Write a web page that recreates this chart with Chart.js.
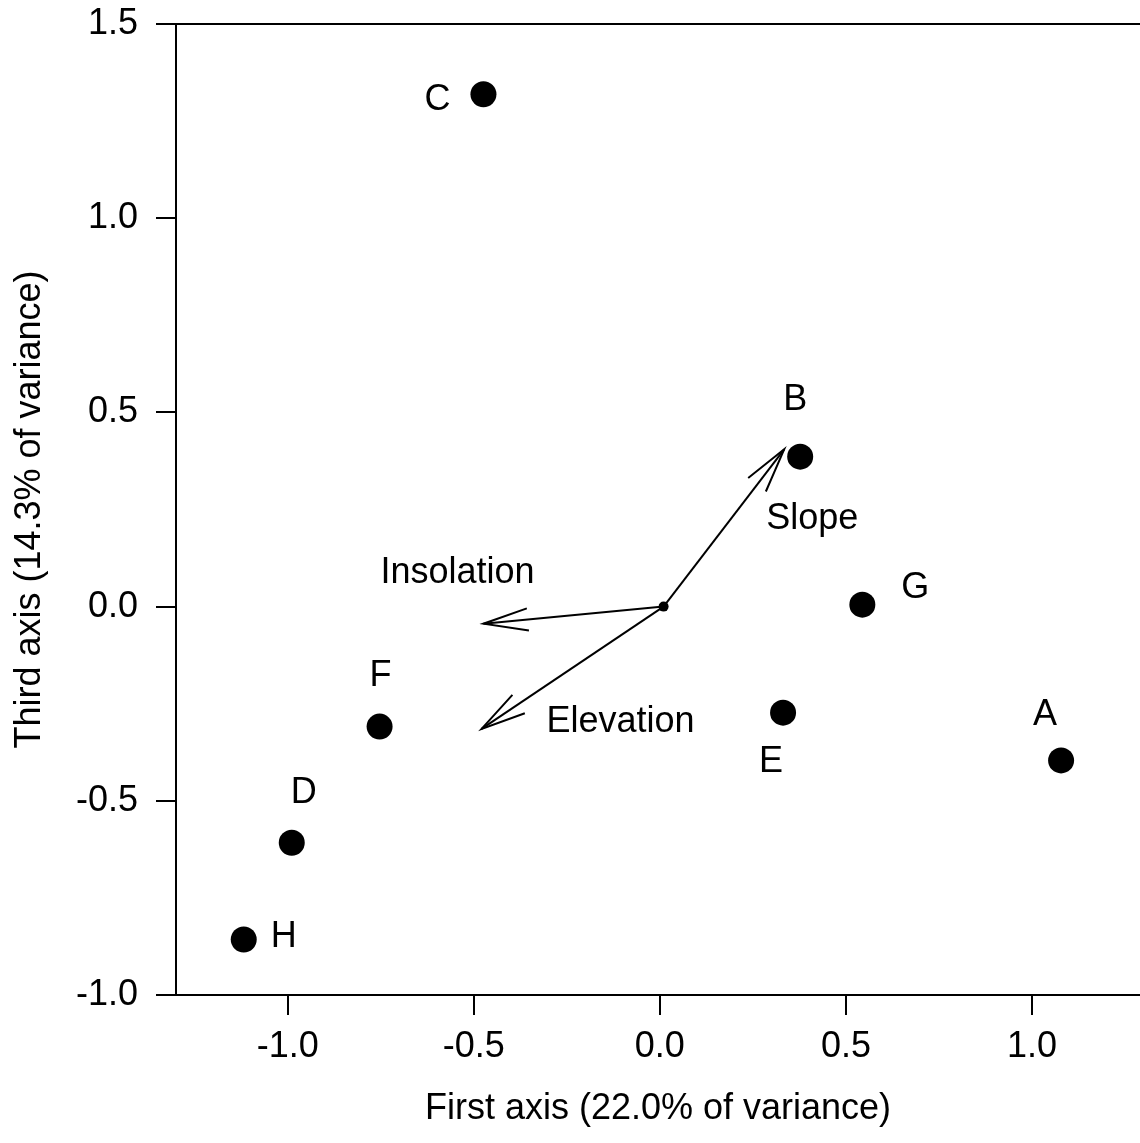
<!DOCTYPE html>
<html>
<head>
<meta charset="utf-8">
<title>Ordination plot</title>
<script src="https://cdn.jsdelivr.net/npm/chart.js@4/dist/chart.umd.min.js"></script>
<style>
  html, body { margin: 0; background: #fff; overflow: hidden; }
  #ordChart { display: block; }
</style>
</head>
<body>
<canvas id="ordChart" width="1140" height="1143"></canvas>
<script>
// site scores on the first and third axes
const siteNames = ['A', 'B', 'C', 'D', 'E', 'F', 'G', 'H'];
const siteAxis1 = [1.078, 0.377, -0.474, -0.989, 0.331, -0.753, 0.544, -1.118];
const siteAxis3 = [-0.396, 0.386, 1.319, -0.608, -0.273, -0.309, 0.005, -0.857];

// environmental vectors, all starting from the same origin
const vectorOrigin = [0.01, 0.0];
const vectorNames = ['Slope', 'Insolation', 'Elevation'];
const vectorAxis1 = [0.334, -0.474, -0.479];
const vectorAxis3 = [0.405, -0.044, -0.315];

const xTicks = [-1.0, -0.5, 0.0, 0.5, 1.0];
const yTicks = [-1.0, -0.5, 0.0, 0.5, 1.0, 1.5];

// where each text label sits relative to its mark, in pixels
const siteLabelShift = {
  A: [-16, -45], B: [-5, -57], C: [-46, 6], D: [12, -50],
  E: [-12, 49], F: [1, -51], G: [53, -17], H: [40, -2]
};
const vectorLabelShift = {
  Slope: [28, 70], Insolation: [-26, -51], Elevation: [139, -7]
};

const FONT = '"Liberation Sans", Arial, sans-serif';

const sitePoints = siteNames.map((n, i) => ({ x: siteAxis1[i], y: siteAxis3[i], name: n }));

const vectorSets = vectorNames.map((n, i) => ({
  label: n,
  data: [
    { x: vectorOrigin[0], y: vectorOrigin[1] },
    { x: vectorAxis1[i], y: vectorAxis3[i] }
  ],
  showLine: true,
  borderColor: '#000',
  borderWidth: 2,
  pointRadius: 0,
  order: 2
}));

const ordPlugin = {
  id: 'ordPlugin',
  afterDatasetsDraw(chart) {
    const ctx = chart.ctx;
    const xs = chart.scales.x, ys = chart.scales.y;
    const area = chart.chartArea;

    // frame line along the top
    ctx.save();
    ctx.strokeStyle = '#000';
    ctx.lineWidth = 2;
    ctx.beginPath();
    ctx.moveTo(area.left, area.top);
    ctx.lineTo(area.right, area.top);
    ctx.stroke();

    // open arrowheads at the vector tips
    const ox = xs.getPixelForValue(vectorOrigin[0]);
    const oy = ys.getPixelForValue(vectorOrigin[1]);
    vectorNames.forEach((n, i) => {
      const tx = xs.getPixelForValue(vectorAxis1[i]);
      const ty = ys.getPixelForValue(vectorAxis3[i]);
      const ang = Math.atan2(oy - ty, ox - tx);
      const len = 46, spread = 14 * Math.PI / 180;
      ctx.beginPath();
      ctx.moveTo(tx + len * Math.cos(ang - spread), ty + len * Math.sin(ang - spread));
      ctx.lineTo(tx, ty);
      ctx.lineTo(tx + len * Math.cos(ang + spread), ty + len * Math.sin(ang + spread));
      ctx.stroke();
    });

    // labels
    ctx.fillStyle = '#000';
    ctx.font = '36px ' + FONT;
    ctx.textAlign = 'center';
    ctx.textBaseline = 'middle';
    siteNames.forEach((n, i) => {
      const s = siteLabelShift[n];
      ctx.fillText(n, xs.getPixelForValue(siteAxis1[i]) + s[0], ys.getPixelForValue(siteAxis3[i]) + s[1]);
    });
    vectorNames.forEach((n, i) => {
      const s = vectorLabelShift[n];
      ctx.fillText(n, xs.getPixelForValue(vectorAxis1[i]) + s[0], ys.getPixelForValue(vectorAxis3[i]) + s[1]);
    });
    ctx.restore();
  }
};

const axisStyle = {
  border: { display: true, color: '#000', width: 2 },
  grid: { drawOnChartArea: false, drawTicks: true, tickLength: 20, color: '#000', lineWidth: 2 }
};

new Chart(document.getElementById('ordChart'), {
  type: 'scatter',
  data: {
    datasets: [
      {
        label: 'Sites',
        data: sitePoints,
        pointRadius: 13,
        pointHoverRadius: 13,
        backgroundColor: '#000',
        borderColor: '#000',
        borderWidth: 0,
        order: 1
      },
      {
        label: 'Origin',
        data: [{ x: vectorOrigin[0], y: vectorOrigin[1] }],
        pointRadius: 5,
        backgroundColor: '#000',
        borderWidth: 0,
        order: 1
      },
      ...vectorSets
    ]
  },
  options: {
    responsive: false,
    animation: false,
    layout: { autoPadding: false, padding: { top: 24, right: 0, left: 0, bottom: 0 } },
    plugins: { legend: { display: false }, tooltip: { enabled: false } },
    scales: {
      x: {
        ...axisStyle,
        min: -1.3,
        max: 1.29,
        afterFit: (s) => { s.height = 148; s.paddingLeft = 0; s.paddingRight = 0; },
        afterBuildTicks: (s) => { s.ticks = xTicks.map(v => ({ value: v })); },
        ticks: {
          padding: 10,
          color: '#000',
          font: { family: FONT, size: 36 },
          callback: (v) => v.toFixed(1)
        },
        title: {
          display: true,
          text: 'First axis (22.0% of variance)',
          color: '#000',
          font: { family: FONT, size: 36 },
          padding: { top: 0, bottom: 12 }
        }
      },
      y: {
        ...axisStyle,
        min: -1.0,
        max: 1.5,
        afterFit: (s) => { s.width = 176; s.paddingTop = 0; s.paddingBottom = 0; },
        afterBuildTicks: (s) => { s.ticks = yTicks.map(v => ({ value: v })); },
        ticks: {
          padding: 18,
          color: '#000',
          font: { family: FONT, size: 36 },
          callback: (v) => v.toFixed(1)
        },
        title: {
          display: true,
          text: 'Third axis (14.3% of variance)',
          color: '#000',
          font: { family: FONT, size: 36 },
          padding: { top: 8, bottom: 0 }
        }
      }
    }
  },
  plugins: [ordPlugin]
});
</script>
</body>
</html>
